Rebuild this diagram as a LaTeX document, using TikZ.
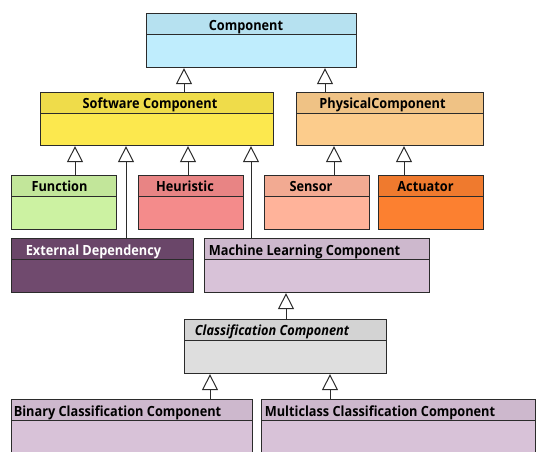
\documentclass[tikz,border=0pt]{standalone}
\usepackage{fontspec}
\usetikzlibrary{arrows.meta}
\newfontfamily\umlfont{Open Sans}[FakeStretch=0.91]

\definecolor{linegray}{HTML}{2B2B2B}
\definecolor{compfill}{HTML}{BFEDFD}
\definecolor{swfill}{HTML}{FCE84E}
\definecolor{physfill}{HTML}{FCCC8C}
\definecolor{funcfill}{HTML}{CCF2A2}
\definecolor{heurfill}{HTML}{F48B8B}
\definecolor{sensfill}{HTML}{FFB39A}
\definecolor{actfill}{HTML}{FC8030}
\definecolor{extfill}{HTML}{704A6E}
\definecolor{mlfill}{HTML}{D8C2D8}
\definecolor{clsfill}{HTML}{DEDEDE}

\tikzset{
  umlclass/.style={draw=linegray, line width=1.1pt, fill=#1, anchor=north west, inner sep=0pt,
    path picture={
      \fill[#1!95!black] (path picture bounding box.north west) rectangle ([yshift=-20.5pt]path picture bounding box.north east);
      \draw[linegray, line width=1.1pt] ([yshift=-20.5pt]path picture bounding box.north west) -- ([yshift=-20.5pt]path picture bounding box.north east);}},
  classname/.style={font=\umlfont\bfseries\fontsize{14}{16}\selectfont, anchor=base, inner sep=0pt},
  generalize/.style={draw=linegray, line width=1pt, -{Triangle[open, width=16pt, length=16pt]}}
}

\begin{document}
\begin{tikzpicture}[x=1pt, y=-1pt]
  \useasboundingbox (0,0) rectangle (537,451);
  \clip (0,0) rectangle (537,451);

  % classes
  \node[umlclass=compfill, minimum width=210pt, minimum height=54pt] (comp) at (146,13) {};
  \node[umlclass=swfill, minimum width=233pt, minimum height=53pt] (sw) at (40,92) {};
  \node[umlclass=physfill, minimum width=187pt, minimum height=53pt] (phys) at (296,92) {};
  \node[umlclass=funcfill, minimum width=105pt, minimum height=54pt] (func) at (11,175) {};
  \node[umlclass=heurfill, minimum width=105pt, minimum height=54pt] (heur) at (138,175) {};
  \node[umlclass=sensfill, minimum width=105pt, minimum height=54pt] (sens) at (264,175) {};
  \node[umlclass=actfill, minimum width=105pt, minimum height=54pt] (act) at (378,175) {};
  \node[umlclass=extfill, minimum width=182pt, minimum height=54pt] (ext) at (11,238) {};
  \node[umlclass=mlfill, minimum width=225pt, minimum height=54pt] (ml) at (204,238) {};
  \node[umlclass=clsfill, minimum width=202pt, minimum height=54pt] (cls) at (184,319) {};
  \node[umlclass=mlfill, minimum width=241pt, minimum height=70pt] (bin) at (11,399) {};
  \node[umlclass=mlfill, minimum width=274pt, minimum height=70pt] (multi) at (261,399) {};

  % class names
  \node[classname] (compname) at (246,30.7) {Component};
  \node[classname] (swname) at (150,108.3) {Software Component};
  \node[classname] (physname) at (382.5,108.3) {PhysicalComponent};
  \node[classname] (funcname) at (59.5,191.7) {Function};
  \node[classname] (heurname) at (185,191.7) {Heuristic};
  \node[classname] (sensname) at (311,191.7) {Sensor};
  \node[classname] (actname) at (425.5,191.7) {Actuator};
  \node[classname, text=white] (extname) at (93.5,255.7) {External Dependency};
  \node[classname] (mlname) at (304.5,255.7) {Machine Learning Component};
  \node[classname, font=\umlfont\bfseries\itshape\fontsize{14}{16}\selectfont] (clsname) at (272,335.7) {Classification Component};
  \node[classname] (binname) at (117.5,416.7) {Binary Classification Component};
  \node[classname] (multiname) at (380,416.7) {Multiclass Classification Component};

  % generalizations
  \draw[generalize] (184,0 |- sw.north) -- (184,0 |- comp.south);
  \draw[generalize] (325,0 |- phys.north) -- (325,0 |- comp.south);
  \draw[generalize] (75,0 |- func.north) -- (75,0 |- sw.south);
  \draw[generalize] (126,0 |- ext.north) -- (126,0 |- sw.south);
  \draw[generalize] (188,0 |- heur.north) -- (188,0 |- sw.south);
  \draw[generalize] (251,0 |- ml.north) -- (251,0 |- sw.south);
  \draw[generalize] (334,0 |- sens.north) -- (334,0 |- phys.south);
  \draw[generalize] (404,0 |- act.north) -- (404,0 |- phys.south);
  \draw[generalize] (286,0 |- cls.north) -- (286,0 |- ml.south);
  \draw[generalize] (210,0 |- bin.north) -- (210,0 |- cls.south);
  \draw[generalize] (330,0 |- multi.north) -- (330,0 |- cls.south);

\end{tikzpicture}
\end{document}
